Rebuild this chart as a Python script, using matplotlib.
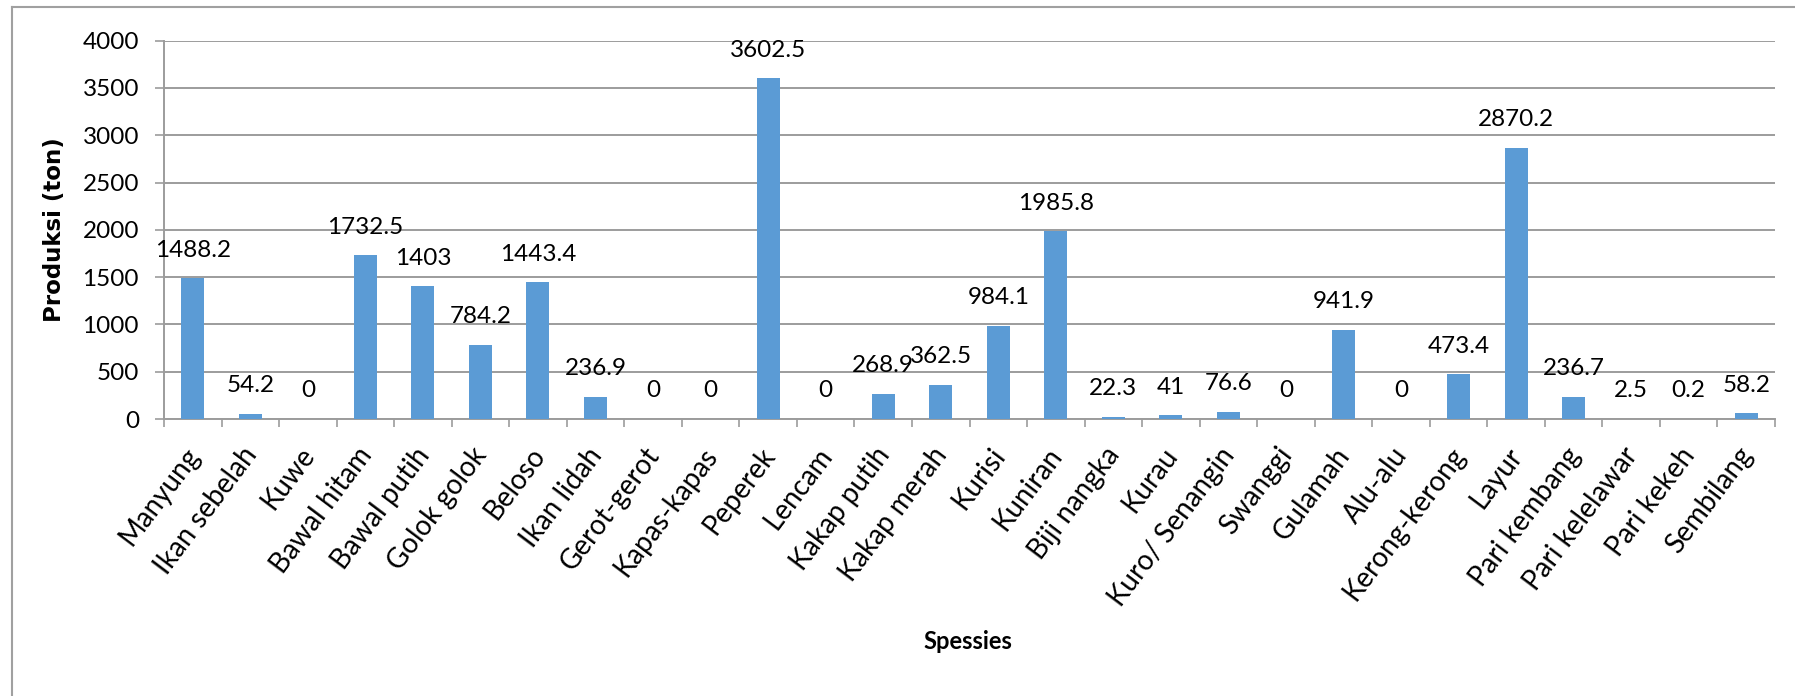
import matplotlib
matplotlib.use("Agg")
import matplotlib.pyplot as plt
from matplotlib.lines import Line2D
from matplotlib.transforms import ScaledTranslation
import numpy as np

species = ["Manyung", "Ikan sebelah", "Kuwe", "Bawal hitam", "Bawal putih",
           "Golok golok", "Beloso", "Ikan lidah", "Gerot-gerot", "Kapas-kapas",
           "Peperek", "Lencam", "Kakap putih", "Kakap merah", "Kurisi",
           "Kuniran", "Biji nangka", "Kurau", "Kuro/ Senangin", "Swanggi",
           "Gulamah", "Alu-alu", "Kerong-kerong", "Layur", "Pari kembang",
           "Pari kelelawar", "Pari kekeh", "Sembilang"]
produksi = [1488.2, 54.2, 0, 1732.5, 1403, 784.2, 1443.4, 236.9, 0, 0,
            3602.5, 0, 268.9, 362.5, 984.1, 1985.8, 22.3, 41, 76.6, 0,
            941.9, 0, 473.4, 2870.2, 236.7, 2.5, 0.2, 58.2]
yticks = [0, 500, 1000, 1500, 2000, 2500, 3000, 3500, 4000]

W, H = 1795, 696
fig = plt.figure(figsize=(W / 100, H / 100), dpi=100)
fig.patch.set_facecolor("white")

L, R, T, B = 164, 1775, 40.7, 419
ax = fig.add_axes([L / W, 1 - B / H, (R - L) / W, (B - T) / H])

FONT = ["Lato", "DejaVu Sans"]
BAR = "#5B9BD5"
GRID = "#9c9c9c"

x = np.arange(len(species))
ax.bar(x, produksi, width=0.4, color=BAR, zorder=3)

ax.set_xlim(-0.5, len(species) - 0.5)
ax.set_ylim(0, 4000)
ax.set_yticks(yticks)
ax.set_yticklabels([str(t) for t in yticks], fontfamily=FONT, fontsize=17.5)
ax.yaxis.grid(True, color=GRID, linewidth=1.4, zorder=0)
ax.tick_params(axis="y", length=6.5, width=1.2, color=GRID, pad=11.5, labelcolor="black")

ax.set_xticks(x)
ax.set_xticklabels(species, fontfamily=FONT, fontsize=20, rotation=53,
                   ha="right", va="top", rotation_mode="anchor")
ax.tick_params(axis="x", which="major", length=0, pad=17)
shift = ScaledTranslation(-9 / 100, 0, fig.dpi_scale_trans)
for lab in ax.get_xticklabels():
    lab.set_transform(lab.get_transform() + shift)
ax.set_xticks(np.arange(-0.5, len(species), 1.0), minor=True)
ax.tick_params(axis="x", which="minor", length=6, width=1.2, color=GRID, direction="out")

for s in ["top", "right"]:
    ax.spines[s].set_visible(False)
for s in ["left", "bottom"]:
    ax.spines[s].set_color(GRID)
    ax.spines[s].set_linewidth(1.4)

for xi, v in zip(x, produksi):
    ax.annotate(f"{v:g}", (xi, v), xytext=(0, 15.5), textcoords="offset points",
                ha="center", va="baseline", fontfamily=FONT, fontsize=17.5,
                color="black", zorder=4)

fig.text(55 / W, 1 - 229.5 / H, "Produksi (ton)", rotation=90, ha="center",
         va="center", fontfamily=["DejaVu Sans"], fontweight="bold", fontsize=16.5)
fig.text(968 / W, 1 - 649 / H, "Spessies", ha="center", va="baseline",
         fontfamily=FONT, fontweight="bold", fontsize=17)

# outer chart border (left and top visible)
bx, by = 11.5 / W, 1 - 6.5 / H
fig.add_artist(Line2D([bx, bx], [0, by], color="#a0a0a0", linewidth=1.5))
fig.add_artist(Line2D([bx, 1], [by, by], color="#a0a0a0", linewidth=1.5))

fig.savefig("out.png", dpi=100, facecolor="white")
